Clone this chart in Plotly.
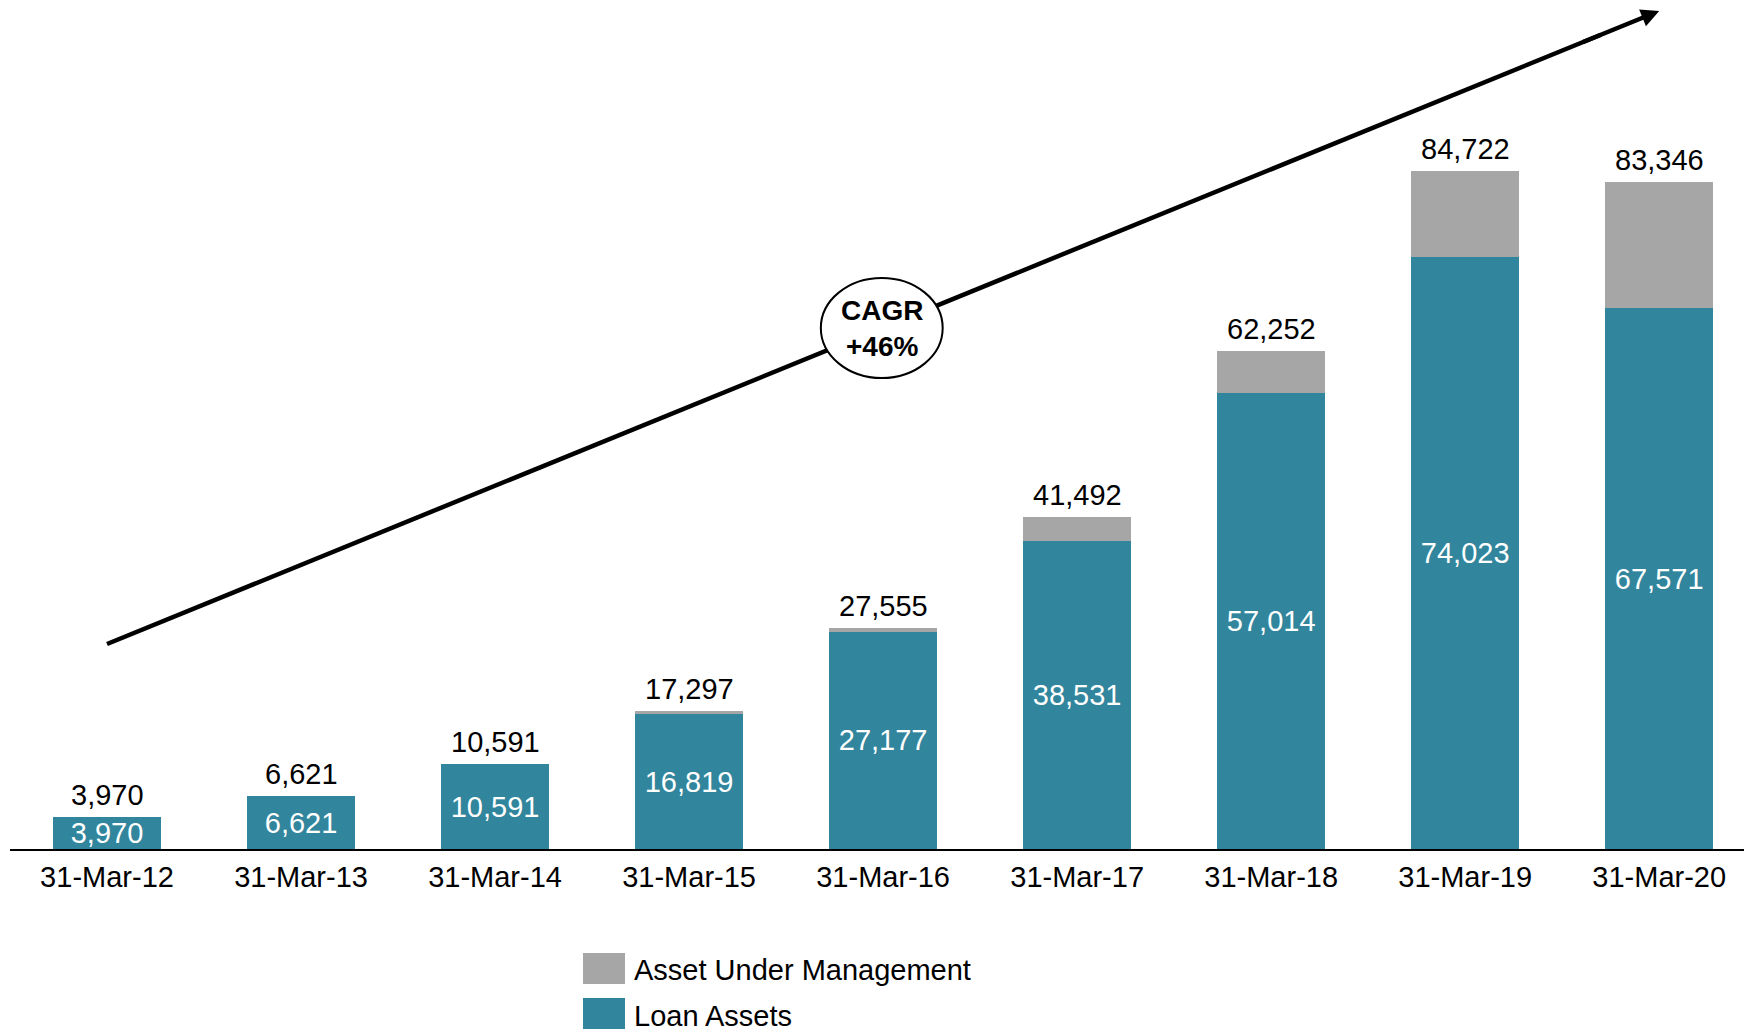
import plotly.graph_objects as go

# Portfolio size by financial year end (Rs crore)
dates = ["31-Mar-12", "31-Mar-13", "31-Mar-14", "31-Mar-15", "31-Mar-16",
         "31-Mar-17", "31-Mar-18", "31-Mar-19", "31-Mar-20"]
loan_assets = [3970, 6621, 10591, 16819, 27177, 38531, 57014, 74023, 67571]
total_aum = [3970, 6621, 10591, 17297, 27555, 41492, 62252, 84722, 83346]
managed_assets = [t - l for t, l in zip(total_aum, loan_assets)]

TEAL = "#31859C"
GREY = "#A6A6A6"
FONT = "Liberation Sans, Arial, sans-serif"

W, H = 1744, 1032
ML, MR, MT, MB = 10, 0, 0, 183
PLOT_W = W - ML - MR
PLOT_H = H - MT - MB
Y_MAX = 106085
X_RANGE = [-0.5, 8.437]

x = list(range(len(dates)))


def fmt(v):
    return f"{v:,}"


def paper_x(px):
    return (px - ML) / PLOT_W


def paper_y(py):
    return (H - MB - py) / PLOT_H


fig = go.Figure()

fig.add_trace(go.Bar(
    x=x, y=loan_assets, name="Loan Assets",
    marker=dict(color=TEAL, line=dict(width=0)),
    width=0.556,
    text=[fmt(v) for v in loan_assets],
    textposition="inside", insidetextanchor="middle",
    constraintext="none",
    textfont=dict(color="white", size=29, family=FONT),
    hoverinfo="skip",
))
fig.add_trace(go.Bar(
    x=x, y=managed_assets, name="Asset Under Management",
    marker=dict(color=GREY, line=dict(width=0)),
    width=0.556,
    hoverinfo="skip",
))

# growth arrow
tail_y, tip_y = 25615, 104710
slope = (tip_y - tail_y) / 8
shapes = [
    dict(type="line", xref="x", yref="y", x0=0, y0=tail_y,
         x1=7.7, y1=tail_y + 7.7 * slope,
         line=dict(color="black", width=4.5)),
    dict(type="circle", xref="x", yref="y",
         x0=3.993 - 0.314, x1=3.993 + 0.314,
         y0=65100 - 6248, y1=65100 + 6248,
         fillcolor="white", line=dict(color="black", width=2)),
]

annotations = [
    dict(x=8, y=tip_y, ax=7.6, ay=tail_y + 7.6 * slope,
         xref="x", yref="y", axref="x", ayref="y",
         text="", showarrow=True, arrowhead=2, arrowsize=0.8,
         arrowwidth=4.5, arrowcolor="black"),
    dict(x=3.993, y=65100, xref="x", yref="y",
         text="<b>CAGR<br>+46%</b>", showarrow=False,
         font=dict(size=28, color="black", family=FONT)),
]

# totals written above each stack
for xi, total in zip(x, total_aum):
    annotations.append(dict(x=xi, y=total, xref="x", yref="y",
                            text=fmt(total), showarrow=False,
                            yanchor="middle", yshift=22,
                            font=dict(size=29, color="black", family=FONT)))

# legend swatches
legend_items = [("Asset Under Management", GREY, 953, 984),
                ("Loan Assets", TEAL, 998, 1029)]
for label, color, top, bottom in legend_items:
    shapes.append(dict(type="rect", xref="paper", yref="paper",
                       x0=paper_x(583), x1=paper_x(625),
                       y0=paper_y(bottom), y1=paper_y(top),
                       fillcolor=color, line=dict(width=0)))
    annotations.append(dict(x=paper_x(632), y=paper_y((top + bottom) / 2 + 2),
                            xref="paper", yref="paper",
                            xanchor="left", yanchor="middle",
                            text=label, showarrow=False,
                            font=dict(size=29, color="black", family=FONT)))

fig.update_layout(
    width=W, height=H,
    margin=dict(l=ML, r=MR, t=MT, b=MB),
    barmode="stack",
    paper_bgcolor="white", plot_bgcolor="white",
    showlegend=False,
    font=dict(family=FONT, color="black"),
    shapes=shapes,
    annotations=annotations,
    xaxis=dict(range=X_RANGE, tickvals=x, ticktext=dates,
               showgrid=False, zeroline=False,
               showline=True, linecolor="black", linewidth=2,
               ticks="", ticklabelstandoff=1,
               tickfont=dict(size=29, color="black", family=FONT)),
    yaxis=dict(range=[0, Y_MAX], visible=False, showgrid=False),
)

fig.write_html("out.html")
